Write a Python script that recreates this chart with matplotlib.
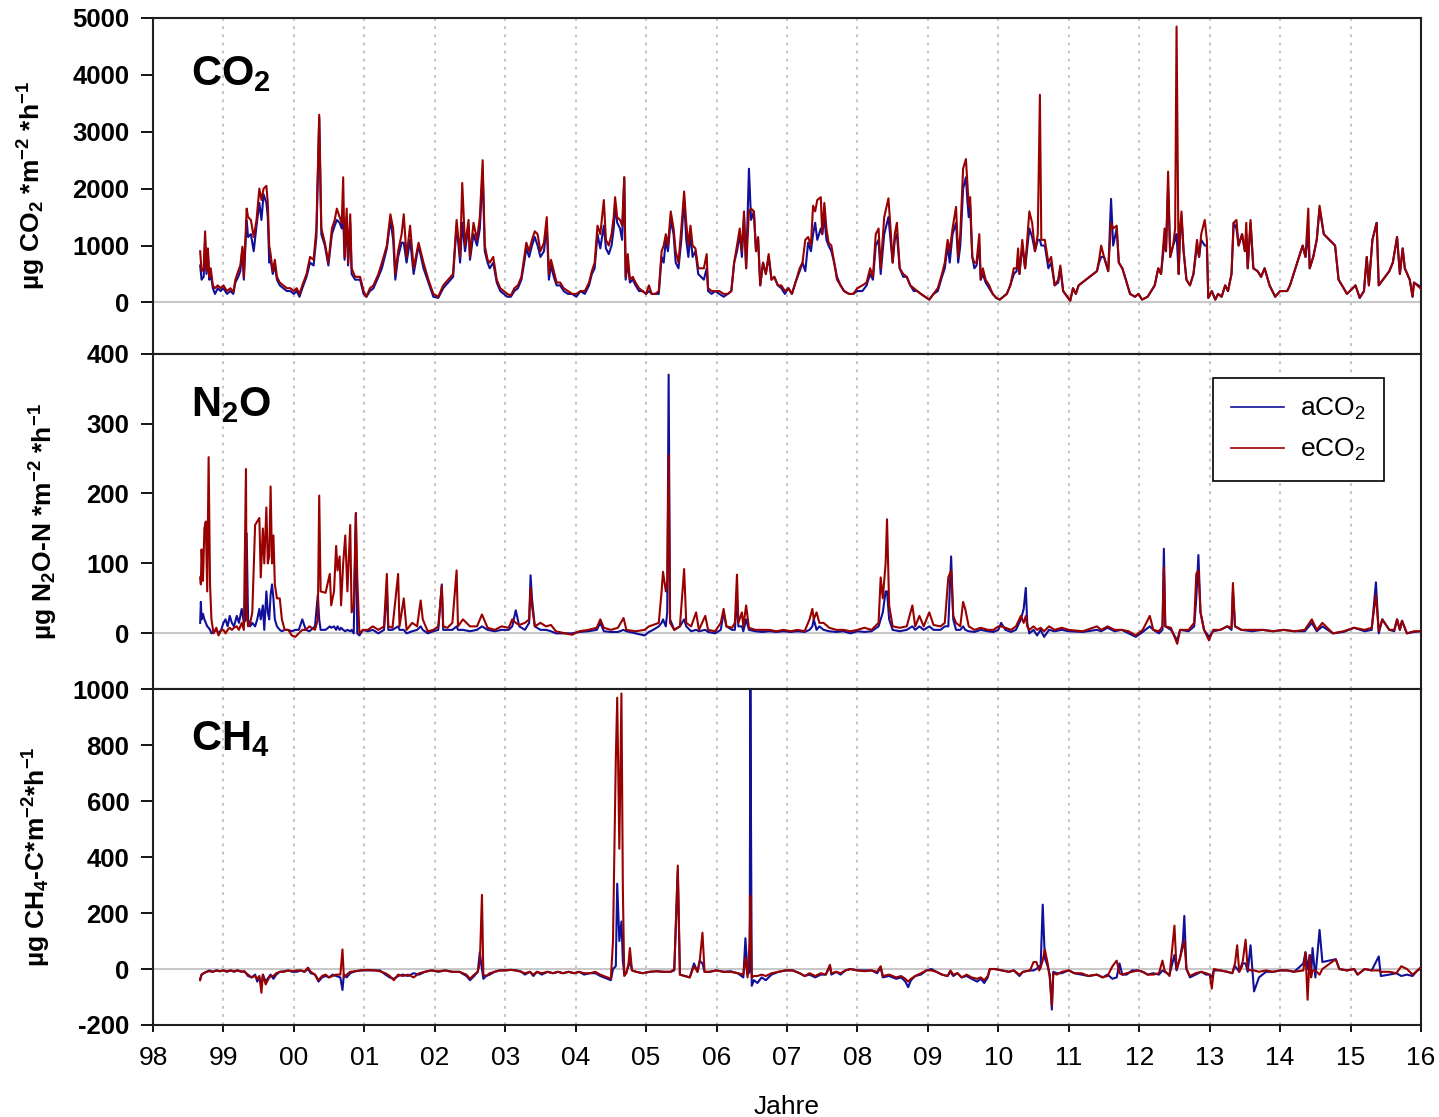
import matplotlib
matplotlib.use("Agg")
import matplotlib.pyplot as plt

plt.rcParams['font.family'] = ['Liberation Sans', 'DejaVu Sans']
plt.rcParams['mathtext.default'] = 'regular'
plt.rcParams['axes.unicode_minus'] = False

# --- CO2 flux, ug CO2 m-2 h-1 ---
co2_t = [
    1998.67, 1998.69, 1998.72, 1998.74, 1998.76, 1998.78, 1998.80, 1998.82, 1998.85, 1998.88, 1998.92, 1998.96,
    1999.00, 1999.05, 1999.10, 1999.14, 1999.17, 1999.21, 1999.24, 1999.27, 1999.29, 1999.33, 1999.35, 1999.39,
    1999.43, 1999.47, 1999.51, 1999.54, 1999.57, 1999.61, 1999.63, 1999.65, 1999.67, 1999.70, 1999.73, 1999.76,
    1999.80, 1999.85, 1999.90, 1999.95,
    2000.00, 2000.04, 2000.08, 2000.12, 2000.18, 2000.23, 2000.28, 2000.32, 2000.36, 2000.39, 2000.44, 2000.49,
    2000.54, 2000.58, 2000.61, 2000.65, 2000.68, 2000.70, 2000.72, 2000.75, 2000.77, 2000.80, 2000.82, 2000.87,
    2000.94, 2000.99,
    2001.03, 2001.08, 2001.13, 2001.20, 2001.25, 2001.32, 2001.37, 2001.41, 2001.44, 2001.48, 2001.53, 2001.56,
    2001.60, 2001.65, 2001.70, 2001.77, 2001.84, 2001.91, 2001.98,
    2002.05, 2002.12, 2002.19, 2002.26, 2002.31, 2002.36, 2002.39, 2002.43, 2002.48, 2002.50, 2002.55, 2002.60,
    2002.64, 2002.68, 2002.71, 2002.75, 2002.78, 2002.83, 2002.88, 2002.93, 2002.98,
    2003.03, 2003.08, 2003.13, 2003.18, 2003.23, 2003.27, 2003.30, 2003.34, 2003.38, 2003.42, 2003.46, 2003.50,
    2003.55, 2003.59, 2003.62, 2003.65, 2003.69, 2003.73, 2003.78, 2003.83, 2003.89, 2003.95,
    2004.01, 2004.07, 2004.13, 2004.19, 2004.23, 2004.27, 2004.31, 2004.35, 2004.40, 2004.43, 2004.47, 2004.51,
    2004.54, 2004.56, 2004.59, 2004.63, 2004.66, 2004.69, 2004.71, 2004.74, 2004.77, 2004.81, 2004.85, 2004.90,
    2004.95,
    2005.00, 2005.04, 2005.08, 2005.13, 2005.18, 2005.22, 2005.25, 2005.28, 2005.31, 2005.35, 2005.39, 2005.42,
    2005.46, 2005.50, 2005.54, 2005.57, 2005.60, 2005.63, 2005.66, 2005.70, 2005.74, 2005.78, 2005.82, 2005.86,
    2005.88, 2005.93, 2005.98,
    2006.04, 2006.10, 2006.16, 2006.21, 2006.25, 2006.29, 2006.33, 2006.36, 2006.39, 2006.42, 2006.46, 2006.49,
    2006.53, 2006.56, 2006.59, 2006.62, 2006.66, 2006.70, 2006.74, 2006.78, 2006.82, 2006.87, 2006.92, 2006.97,
    2007.02, 2007.07, 2007.12, 2007.18, 2007.22, 2007.26, 2007.30, 2007.34, 2007.37, 2007.40, 2007.43, 2007.48,
    2007.50, 2007.53, 2007.56, 2007.59, 2007.63, 2007.67, 2007.71, 2007.76, 2007.81, 2007.88, 2007.94,
    2008.00, 2008.07, 2008.13, 2008.18, 2008.22, 2008.26, 2008.30, 2008.33, 2008.38, 2008.44, 2008.47, 2008.50,
    2008.53, 2008.56, 2008.60, 2008.65, 2008.70, 2008.75, 2008.80, 2008.85, 2008.90, 2008.96,
    2009.02, 2009.08, 2009.14, 2009.20, 2009.24, 2009.28, 2009.31, 2009.35, 2009.40, 2009.43, 2009.46, 2009.50,
    2009.54, 2009.56, 2009.58, 2009.60, 2009.63, 2009.66, 2009.69, 2009.73, 2009.75, 2009.78, 2009.82, 2009.87,
    2009.92, 2009.97,
    2010.02, 2010.07, 2010.12, 2010.17, 2010.22, 2010.26, 2010.28, 2010.30, 2010.34, 2010.38, 2010.44, 2010.48,
    2010.52, 2010.56, 2010.59, 2010.61, 2010.66, 2010.71, 2010.75, 2010.80, 2010.85, 2010.88, 2010.92,
    2011.02, 2011.06, 2011.10, 2011.14, 2011.40, 2011.43, 2011.46, 2011.50, 2011.56, 2011.60, 2011.63, 2011.68,
    2011.71, 2011.76, 2011.81, 2011.87, 2011.94, 2011.99,
    2012.04, 2012.12, 2012.22, 2012.27, 2012.31, 2012.36, 2012.38, 2012.41, 2012.44, 2012.48, 2012.51, 2012.53,
    2012.56, 2012.58, 2012.60, 2012.63, 2012.67, 2012.72, 2012.77, 2012.82, 2012.85, 2012.88, 2012.93, 2012.96,
    2012.98,
    2013.03, 2013.08, 2013.12, 2013.17, 2013.22, 2013.26, 2013.31, 2013.34, 2013.38, 2013.41, 2013.46, 2013.50,
    2013.52, 2013.54, 2013.58, 2013.62, 2013.68, 2013.73, 2013.78, 2013.85, 2013.93,
    2014.00, 2014.10, 2014.14, 2014.32, 2014.36, 2014.40, 2014.42, 2014.47, 2014.52, 2014.56, 2014.62, 2014.78,
    2014.83, 2014.95,
    2015.07, 2015.13, 2015.19, 2015.23, 2015.26, 2015.31, 2015.37, 2015.40, 2015.46, 2015.55, 2015.60, 2015.66,
    2015.70, 2015.74, 2015.77, 2015.84, 2015.88, 2015.90, 2015.99,
]
co2_a = [
    650, 400, 450, 1100, 500, 850, 400, 500, 250, 150, 250, 200,
    250, 150, 200, 150, 350, 450, 550, 950, 400, 1450, 1150, 1200,
    900, 1350, 1750, 1450, 1900, 1750, 1500, 700, 750, 500, 650, 400,
    300, 250, 200, 200,
    150, 200, 100, 250, 450, 700, 650, 1150, 3250, 1200, 1000, 650,
    1200, 1350, 1450, 1400, 1300, 1500, 750, 1500, 650, 1400, 500, 400,
    400, 150,
    100, 200, 250, 450, 600, 950, 1450, 1100, 400, 800, 1050, 1050,
    700, 1100, 500, 1000, 600, 350, 100,
    80, 250, 350, 450, 1350, 700, 1400, 900, 1350, 750, 1200, 1000,
    1300, 2300, 900, 700, 600, 700, 350, 200, 150,
    100, 100, 200, 250, 400, 700, 950, 800, 1000, 1150, 1000, 800,
    900, 1350, 400, 650, 450, 300, 300, 200, 150, 150,
    100, 200, 150, 300, 500, 600, 1200, 950, 1350, 950, 850, 1000,
    1300, 1700, 1400, 1300, 1100, 2200, 400, 700, 350, 400, 300, 200,
    200,
    150, 200, 150, 150, 150, 800, 700, 1100, 900, 1450, 1200, 700,
    600, 1100, 1800, 1100, 800, 1200, 800, 900, 500, 450, 400, 600,
    200, 150, 200,
    150, 100, 150, 200, 700, 900, 1200, 800, 1500, 600, 2350, 1450,
    1600, 900, 1100, 300, 700, 500, 800, 400, 450, 300, 250, 150,
    250, 150, 350, 550, 700, 550, 1050, 900, 1200, 1400, 1100, 1300,
    1200, 1500, 1100, 1000, 900, 700, 450, 300, 200, 150, 150,
    200, 200, 300, 500, 400, 1000, 1100, 500, 1200, 1500, 1100, 700,
    1100, 1200, 600, 450, 450, 300, 200, 200, 150, 100,
    50, 150, 200, 450, 600, 1000, 700, 1200, 1400, 700, 1000, 2000,
    2200, 1800, 1500, 1700, 800, 600, 650, 1000, 400, 500, 350, 250,
    150, 80,
    50, 100, 150, 300, 500, 550, 800, 500, 1000, 600, 1300, 1150,
    900, 1100, 1100, 1000, 1000, 600, 700, 300, 350, 600, 200,
    30, 250, 150, 300, 550, 700, 800, 800, 550, 1820, 1000, 1300,
    700, 600, 400, 150, 100, 150,
    50, 100, 300, 600, 500, 1100, 900, 2000, 800, 1000, 1100, 1200,
    500, 1200, 1500, 900, 400, 300, 500, 1000, 800, 1100, 1000, 1000,
    80,
    200, 50, 150, 100, 300, 200, 500, 1400, 1300, 1000, 1200, 900,
    1200, 600, 1400, 600, 550, 450, 600, 300, 100,
    200, 200, 300, 1000, 800, 1200, 600, 800, 1100, 1650, 1200, 1000,
    400, 150,
    300, 80, 200, 800, 300, 1100, 1400, 300, 400, 550, 700, 1150,
    500, 950, 600, 400, 100, 350, 280,
]
co2_e = [
    900, 550, 600, 1250, 550, 950, 450, 600, 300, 250, 300, 250,
    300, 200, 250, 180, 400, 550, 650, 980, 450, 1650, 1500, 1450,
    1150, 1450, 2000, 1800, 2000, 2050, 1750, 1000, 850, 550, 750, 450,
    350, 300, 250, 250,
    200, 250, 150, 300, 500, 800, 750, 1300, 3300, 1300, 1050, 700,
    1300, 1450, 1650, 1500, 1400, 2200, 800, 1650, 700, 1550, 600, 450,
    450, 200,
    100, 250, 300, 500, 700, 1000, 1550, 1300, 500, 900, 1200, 1550,
    800, 1350, 600, 1050, 700, 400, 150,
    100, 300, 400, 500, 1450, 800, 2100, 1000, 1450, 800, 1400, 1100,
    1500, 2500, 1000, 750, 700, 800, 400, 250, 200,
    150, 120, 250, 300, 450, 800, 1050, 900, 1100, 1250, 1200, 900,
    1050, 1500, 500, 750, 550, 350, 350, 250, 200, 150,
    150, 200, 200, 350, 550, 700, 1350, 1200, 1800, 1100, 1000, 1200,
    1500, 1850, 1500, 1450, 1350, 2200, 450, 850, 400, 450, 350, 250,
    200,
    150, 300, 150, 150, 200, 900, 1000, 1200, 1000, 1600, 1300, 900,
    700, 1300, 1950, 1400, 1000, 1350, 1000, 950, 600, 600, 600, 850,
    250, 200, 200,
    200, 150, 150, 200, 700, 1000, 1300, 900, 1600, 600, 1600, 1650,
    1600, 900, 1150, 300, 700, 500, 850, 400, 450, 300, 300, 200,
    250, 150, 350, 600, 700, 1100, 1150, 1000, 1700, 1600, 1800, 1850,
    1200, 1750, 1300, 1050, 1000, 700, 400, 300, 200, 150, 150,
    250, 300, 350, 600, 450, 1200, 1300, 600, 1500, 1830, 1300, 700,
    1200, 1400, 600, 500, 450, 300, 250, 200, 150, 100,
    50, 150, 250, 500, 700, 1100, 900, 1300, 1680, 800, 1200, 2350,
    2520, 2100, 1700, 1850, 800, 700, 700, 1200, 400, 600, 400, 300,
    150, 80,
    50, 100, 150, 300, 600, 600, 950, 500, 1100, 600, 1600, 1400,
    900, 1200, 3650, 1100, 1100, 700, 800, 300, 400, 650, 200,
    30, 250, 150, 300, 550, 750, 1000, 800, 550, 1400, 1300, 1350,
    700, 600, 400, 150, 100, 150,
    50, 100, 300, 600, 500, 1300, 900, 2300, 800, 1000, 1300, 4850,
    500, 1300, 1600, 900, 400, 300, 500, 1100, 800, 1200, 1450, 1100,
    80,
    200, 50, 150, 100, 300, 200, 500, 1400, 1450, 1000, 1200, 900,
    1400, 600, 1450, 600, 550, 450, 600, 300, 100,
    200, 200, 300, 1000, 800, 1650, 600, 800, 1100, 1700, 1200, 1000,
    400, 150,
    300, 80, 200, 800, 300, 1100, 1400, 300, 400, 550, 700, 1150,
    500, 950, 600, 400, 100, 350, 250,
]

# --- N2O flux, ug N2O-N m-2 h-1 ---
n2o_t = [
    1998.67, 1998.68, 1998.69, 1998.71, 1998.73, 1998.75, 1998.77, 1998.79, 1998.81, 1998.83, 1998.86, 1998.90,
    1998.93, 1998.97,
    1999.00, 1999.03, 1999.06, 1999.09, 1999.12, 1999.15, 1999.19, 1999.22, 1999.26, 1999.29, 1999.32, 1999.33,
    1999.35, 1999.38, 1999.41, 1999.45, 1999.48, 1999.51, 1999.53, 1999.56, 1999.58, 1999.61, 1999.63, 1999.65,
    1999.67, 1999.69, 1999.71, 1999.73, 1999.76, 1999.80, 1999.83, 1999.87, 1999.92, 1999.97,
    2000.02, 2000.07, 2000.12, 2000.17, 2000.22, 2000.30, 2000.34, 2000.36, 2000.38, 2000.45, 2000.51, 2000.53,
    2000.57, 2000.60, 2000.62, 2000.65, 2000.67, 2000.70, 2000.73, 2000.76, 2000.80, 2000.82, 2000.85, 2000.88,
    2000.90, 2000.93, 2000.98,
    2001.05, 2001.12, 2001.20, 2001.28, 2001.32, 2001.34, 2001.40, 2001.48, 2001.50, 2001.56, 2001.60, 2001.68,
    2001.75, 2001.80, 2001.83, 2001.90, 2001.98,
    2002.05, 2002.10, 2002.12, 2002.18, 2002.25, 2002.31, 2002.33, 2002.40, 2002.50, 2002.60, 2002.67, 2002.75,
    2002.85, 2002.95,
    2003.05, 2003.10, 2003.15, 2003.20, 2003.28, 2003.34, 2003.36, 2003.38, 2003.42, 2003.50, 2003.58, 2003.65,
    2003.72, 2003.85, 2003.95,
    2004.05, 2004.18, 2004.30, 2004.35, 2004.40, 2004.50, 2004.60, 2004.68, 2004.72, 2004.85, 2004.98,
    2005.04, 2005.10, 2005.18, 2005.22, 2005.24, 2005.28, 2005.30, 2005.32, 2005.34, 2005.40, 2005.48, 2005.54,
    2005.57, 2005.64, 2005.71, 2005.75, 2005.84, 2005.88, 2005.98,
    2006.06, 2006.10, 2006.14, 2006.22, 2006.26, 2006.29, 2006.31, 2006.36, 2006.38, 2006.42, 2006.46, 2006.55,
    2006.65, 2006.75, 2006.85, 2006.95,
    2007.05, 2007.15, 2007.25, 2007.32, 2007.36, 2007.38, 2007.42, 2007.46, 2007.52, 2007.60, 2007.70, 2007.80,
    2007.90,
    2008.00, 2008.10, 2008.20, 2008.30, 2008.33, 2008.36, 2008.40, 2008.42, 2008.45, 2008.50, 2008.60, 2008.70,
    2008.78, 2008.82, 2008.88, 2008.94,
    2009.02, 2009.08, 2009.18, 2009.24, 2009.29, 2009.33, 2009.36, 2009.40, 2009.46, 2009.50, 2009.53, 2009.58,
    2009.66, 2009.75, 2009.85, 2009.93,
    2010.00, 2010.04, 2010.10, 2010.18, 2010.25, 2010.32, 2010.36, 2010.39, 2010.41, 2010.44, 2010.50, 2010.55,
    2010.60, 2010.65, 2010.72, 2010.80, 2010.90,
    2011.00, 2011.20, 2011.40, 2011.46, 2011.55, 2011.65, 2011.75, 2011.85, 2011.95,
    2012.05, 2012.15, 2012.20, 2012.28, 2012.33, 2012.35, 2012.37, 2012.45, 2012.54, 2012.58, 2012.70, 2012.78,
    2012.81, 2012.84, 2012.87, 2012.92, 2012.99,
    2013.05, 2013.15, 2013.25, 2013.31, 2013.33, 2013.36, 2013.45, 2013.60, 2013.75, 2013.90,
    2014.05, 2014.20, 2014.35, 2014.45, 2014.52, 2014.60, 2014.75, 2014.90,
    2015.05, 2015.20, 2015.30, 2015.36, 2015.40, 2015.45, 2015.55, 2015.62, 2015.66, 2015.70, 2015.73, 2015.80,
    2015.90, 2015.99,
]
n2o_a = [
    15, 45, 20, 28, 20, 15, 10, 8, 5, 0, 2, 5,
    0, 5,
    15, 20, 10, 25, 15, 10, 25, 15, 35, 15, 20, 143,
    20, 10, 15, 10, 20, 35, 20, 40, 5, 60, 30, 20,
    55, 70, 50, 20, 10, 5, 3, 5, 5, 3,
    5, 5, 20, 5, 3, 10, 55, 20, 5, 5, 10, 8,
    10, 5, 10, 5, 8, 5, 3, 5, 3, 5, 0, 172,
    0, -3, 5,
    3, 5, 0, 5, 65, 5, 5, 10, 5, 5, 0, 3,
    5, 10, 5, 0, 3,
    5, 70, 5, 5, 5, 10, 5, 5, 3, 5, 10, 5,
    3, 5,
    5, 10, 33, 10, 5, 15, 83, 50, 10, 5, 5, 3,
    0, 0, 0,
    2, 3, 5, 15, 3, 2, 2, 5, 3, 0, -3,
    2, 5, 10, 15, 20, 10, 30, 370, 20, 5, 10, 20,
    10, 3, 5, 3, 5, 2, 0,
    5, 30, 10, 5, 5, 50, 10, 10, 3, 20, 5, 3,
    2, 3, 2, 3,
    2, 3, 2, 5, 10, 20, 5, 10, 5, 3, 2, 3,
    0,
    3, 2, 3, 10, 20, 30, 60, 60, 20, 5, 3, 5,
    10, 5, 10, 5,
    10, 5, 5, 10, 10, 110, 20, 5, 5, 10, 5, 3,
    2, 5, 3, 2,
    5, 15, 5, 2, 5, 20, 35, 65, 15, 0, 5, -3,
    5, -5, 5, 3, 5,
    3, 2, 5, 3, 8, 3, 5, 0, -5,
    2, 10, 5, 0, 5, 121, 10, 5, -10, 5, 3, 10,
    50, 112, 30, 5, -5,
    3, 5, 10, 5, 60, 10, 5, 3, 5, 3,
    5, 3, 3, 15, 3, 10, 0, 2,
    8, 3, 5, 73, 0, 20, 5, 3, 20, 5, 18, 0,
    2, 3,
]
n2o_e = [
    80, 70, 120, 75, 150, 160, 60, 252, 70, 20, 0, 8,
    -3, 5,
    5, 0, 5, 8, 5, 8, 10, 5, 15, 5, 235, 30,
    10, 15, 30, 155, 160, 165, 80, 150, 100, 180, 100, 110,
    210, 100, 140, 70, 50, 50, 20, 5, 5, -3,
    -5, 0, 5, 5, 10, 5, 20, 197, 60, 58, 85, 40,
    60, 125, 90, 110, 40, 100, 140, 60, 155, 30, 40, 172,
    80, 0, 5,
    5, 10, 5, 10, 85, 10, 8, 85, 10, 50, 5, 15,
    10, 47, 20, 3, 5,
    10, 68, 10, 8, 15, 90, 10, 20, 10, 10, 27, 8,
    5, 10,
    8, 20, 15, 12, 15, 20, 65, 40, 10, 15, 10, 12,
    3, 0, -2,
    3, 5, 8, 20, 8, 5, 8, 22, 5, 3, 5,
    10, 12, 15, 60, 88, 60, 75, 255, 15, 5, 10, 92,
    15, 10, 30, 5, 25, 5, 3,
    15, 35, 10, 8, 15, 84, 15, 30, 10, 40, 8, 5,
    5, 5, 3, 5,
    3, 5, 3, 20, 35, 20, 30, 15, 15, 8, 5, 5,
    3,
    5, 8, 5, 15, 80, 50, 100, 163, 40, 10, 8, 10,
    40, 10, 25, 10,
    30, 12, 10, 15, 80, 90, 25, 15, 10, 45, 35, 10,
    5, 8, 5, 5,
    10, 10, 8, 5, 10, 25, 15, 25, 10, 5, 10, 5,
    8, 3, 10, 5, 8,
    5, 3, 10, 5, 10, 5, 5, 3, -3,
    5, 25, 5, 3, 10, 95, 10, 8, -15, 5, 5, 15,
    85, 90, 30, 5, -10,
    5, 5, 10, 8, 72, 10, 5, 5, 5, 3,
    5, 3, 5, 20, 5, 15, 0, 3,
    8, 5, 8, 55, 3, 20, 5, 5, 20, 5, 18, 0,
    3, 3,
]

# --- CH4 flux, ug CH4-C m-2 h-1 ---
ch4_t = [
    1998.67, 1998.69, 1998.72, 1998.76, 1998.80, 1998.85, 1998.90, 1998.95,
    1999.00, 1999.05, 1999.10, 1999.15, 1999.20, 1999.25, 1999.30, 1999.35, 1999.40, 1999.45, 1999.48, 1999.51,
    1999.54, 1999.56, 1999.60, 1999.64, 1999.67, 1999.71, 1999.75, 1999.80, 1999.86, 1999.92, 1999.98,
    2000.04, 2000.10, 2000.15, 2000.20, 2000.24, 2000.30, 2000.35, 2000.40, 2000.45, 2000.50, 2000.55, 2000.60,
    2000.66, 2000.69, 2000.71, 2000.75, 2000.80, 2000.87, 2000.95,
    2001.05, 2001.15, 2001.22, 2001.30, 2001.36, 2001.42, 2001.48, 2001.55, 2001.62, 2001.70, 2001.78, 2001.86,
    2001.95,
    2002.05, 2002.15, 2002.25, 2002.35, 2002.45, 2002.50, 2002.56, 2002.61, 2002.64, 2002.67, 2002.69, 2002.73,
    2002.78, 2002.85, 2002.92,
    2003.00, 2003.08, 2003.15, 2003.22, 2003.28, 2003.35, 2003.40, 2003.45, 2003.52, 2003.60, 2003.68, 2003.75,
    2003.82, 2003.90, 2003.98,
    2004.05, 2004.12, 2004.20, 2004.28, 2004.35, 2004.40, 2004.45, 2004.50, 2004.53, 2004.57, 2004.59, 2004.62,
    2004.65, 2004.67, 2004.69, 2004.72, 2004.75, 2004.77, 2004.80, 2004.86, 2004.95,
    2005.05, 2005.15, 2005.25, 2005.35, 2005.40, 2005.45, 2005.48, 2005.55, 2005.62, 2005.68, 2005.73, 2005.76,
    2005.80, 2005.83, 2005.90,
    2006.00, 2006.10, 2006.20, 2006.30, 2006.38, 2006.41, 2006.44, 2006.47, 2006.48, 2006.50, 2006.53, 2006.58,
    2006.64, 2006.70, 2006.78, 2006.88, 2006.98,
    2007.08, 2007.18, 2007.25, 2007.32, 2007.40, 2007.48, 2007.55, 2007.61, 2007.63, 2007.70, 2007.76, 2007.83,
    2007.90,
    2008.00, 2008.10, 2008.20, 2008.28, 2008.33, 2008.36, 2008.45, 2008.55, 2008.62, 2008.68, 2008.72, 2008.76,
    2008.82, 2008.90, 2008.98,
    2009.05, 2009.12, 2009.20, 2009.28, 2009.32, 2009.36, 2009.42, 2009.48, 2009.55, 2009.62, 2009.70, 2009.75,
    2009.80, 2009.85, 2009.88, 2009.95,
    2010.05, 2010.15, 2010.22, 2010.30, 2010.35, 2010.45, 2010.50, 2010.54, 2010.58, 2010.60, 2010.63, 2010.66,
    2010.70, 2010.73, 2010.76, 2010.78, 2010.83, 2010.90,
    2011.00, 2011.08, 2011.18, 2011.28, 2011.40, 2011.48, 2011.55, 2011.62, 2011.68, 2011.72, 2011.76, 2011.82,
    2011.90, 2011.98,
    2012.05, 2012.12, 2012.20, 2012.28, 2012.33, 2012.36, 2012.43, 2012.50, 2012.53, 2012.58, 2012.62, 2012.64,
    2012.67, 2012.72, 2012.80, 2012.88, 2012.95,
    2013.00, 2013.03, 2013.06, 2013.15, 2013.25, 2013.32, 2013.36, 2013.39, 2013.42, 2013.46, 2013.51, 2013.54,
    2013.58, 2013.63, 2013.70, 2013.80, 2013.90,
    2014.00, 2014.10, 2014.20, 2014.33, 2014.36, 2014.39, 2014.42, 2014.44, 2014.46, 2014.50, 2014.56, 2014.60,
    2014.79, 2014.84, 2014.95,
    2015.05, 2015.10, 2015.20, 2015.30, 2015.40, 2015.43, 2015.55, 2015.65, 2015.72, 2015.80, 2015.88, 2015.95,
    2015.99,
]
ch4_a = [
    -35, -20, -15, -10, -5, -10, -5, -8,
    -5, -10, -5, -8, -5, -10, -8, -25, -30, -20, -45, -30,
    -60, -20, -45, -30, -20, -35, -20, -10, -8, -5, -10,
    -10, -5, -10, 0, -15, -20, -45, -30, -25, -30, -20, -25,
    -30, -75, -20, -30, -15, -8, -5,
    -5, -5, -5, -20, -30, -35, -25, -20, -25, -15, -20, -10,
    -5,
    -10, -5, -10, -10, -25, -40, -25, -10, 60, 0, -35, -25,
    -20, -10, -5,
    -5, -3, -5, -8, -20, -10, -25, -10, -20, -10, -15, -10,
    -15, -10, -15,
    -10, -20, -15, -15, -25, -30, -35, -40, 0, 10, 305, 100,
    170, 30, -20, -10, 10, 30, -5, -10, -15,
    -10, -8, -10, -10, -5, 350, -20, -25, -30, 20, -10, 30,
    20, -10, -10,
    -5, -10, -8, -15, -30, 110, -20, -10, 1010, -60, -40, -50,
    -30, -40, -20, -10, -5,
    -5, -15, -25, -20, -30, -20, -20, 10, -20, -10, -20, -5,
    0,
    -5, -5, -5, -15, 5, -30, -25, -35, -30, -45, -65, -40,
    -25, -20, -5,
    0, -10, -20, -25, -10, -25, -15, -30, -25, -35, -45, -35,
    -50, -30, 0, 0,
    -5, -10, -5, -25, -10, -5, -5, 0, 10, 5, 230, 40,
    10, -20, -145, -10, -15, -15,
    -5, -15, -20, -25, -20, -30, -20, -35, -30, 20, -20, -20,
    -5, -5,
    -10, -20, -15, -20, -5, -10, -20, 50, -5, 40, 100, 190,
    0, -30, -20, -10, -20,
    -20, -30, -5, -5, -10, -15, 10, 0, -10, 20, 20, -10,
    85, -80, -30, -10, -10,
    -5, -5, -10, 20, 60, 0, 50, -20, 75, -30, 140, 25,
    35, 0, -5,
    0, -20, 0, -5, 45, -25, -20, -15, -25, -20, -25, -5,
    0,
]
ch4_e = [
    -40, -20, -15, -10, -8, -10, -5, -8,
    -5, -8, -5, -10, -5, -8, -10, -20, -30, -25, -35, -25,
    -85, -20, -55, -35, -25, -25, -15, -10, -10, -5, -8,
    -5, -5, -10, 5, -10, -20, -40, -25, -20, -30, -25, -20,
    -20, 70, -30, -20, -10, -8, -5,
    -3, -5, -8, -15, -25, -40, -20, -25, -20, -30, -15, -10,
    -5,
    -8, -5, -10, -10, -20, -35, -20, -10, 20, 265, -20, -25,
    -15, -10, -5,
    -5, -3, -5, -10, -15, -10, -20, -10, -15, -10, -15, -10,
    -15, -10, -15,
    -10, -15, -15, -10, -20, -25, -30, -35, 100, 750, 970, 430,
    985, 290, -25, -15, 20, 75, -5, -10, -15,
    -10, -8, -10, -10, 0, 370, -20, -25, -30, 10, -10, 25,
    130, -10, -10,
    -5, -10, -10, -15, -20, 40, -30, 100, 262, -30, -25, -25,
    -20, -25, -15, -10, -5,
    -5, -15, -25, -15, -25, -15, -20, 15, -15, -10, -15, -5,
    0,
    -5, -8, -5, -10, 10, -25, -20, -30, -25, -35, -45, -35,
    -25, -15, -5,
    -5, -10, -20, -25, -5, -20, -15, -30, -20, -30, -35, -30,
    -40, -25, 0, 0,
    -5, -10, -5, -20, -10, -5, 25, 25, -5, 5, 30, 70,
    20, -30, -130, -15, -20, -10,
    -5, -15, -15, -25, -20, -30, -25, 10, 30, -15, -20, -15,
    -10, -5,
    -10, -20, -20, -15, 30, -5, -25, 155, 0, 40, 80, 100,
    0, -25, -15, -10, -15,
    -20, -70, 0, -5, -10, -15, 20, 85, -10, 10, 105, 0,
    -5, -5, -10, -5, -10,
    -5, -5, -10, -5, 60, -110, 50, -30, -5, -5, -20, 0,
    35, 0, -5,
    0, -20, 0, -5, -5, -10, -10, -15, 10, 0, -20, -5,
    5,
]

years = list(range(1998, 2017))
year_labels = ['%02d' % (y % 100) for y in years]

blue = '#10109a'
red = '#990000'

fig, axs = plt.subplots(3, 1, sharex=True, figsize=(14.39, 11.17), dpi=100)
fig.subplots_adjust(left=0.1063, right=0.9875, top=0.9839, bottom=0.0824, hspace=0)

panels = [
    (axs[0], co2_t, co2_a, co2_e, (-900, 5000), [0, 1000, 2000, 3000, 4000, 5000],
     r'CO$_2$', r'µg CO$_2$ *m$^{-2}$ *h$^{-1}$', 0.80, -0.083),
    (axs[1], n2o_t, n2o_a, n2o_e, (-80, 400), [0, 100, 200, 300, 400],
     r'N$_2$O', r'µg N$_2$O-N *m$^{-2}$ *h$^{-1}$', 0.815, -0.073),
    (axs[2], ch4_t, ch4_a, ch4_e, (-200, 1000), [-200, 0, 200, 400, 600, 800, 1000],
     r'CH$_4$', r'µg CH$_4$-C*m$^{-2}$*h$^{-1}$', 0.82, -0.079),
]

for ax, t, a, e, ylim, yt, name, ylab, ny, lx in panels:
    ax.axhline(0, color='#c8c8c8', lw=1.5, zorder=1)
    ax.plot(t, a, color=blue, lw=1.5, label=r'aCO$_2$', zorder=2)
    ax.plot(t, e, color=red, lw=1.5, label=r'eCO$_2$', zorder=3)
    ax.set_ylim(*ylim)
    ax.set_yticks(yt)
    ax.set_yticklabels([str(v) for v in yt], fontsize=18.5, fontweight='bold')
    ax.tick_params(axis='y', direction='out', length=9, width=1.3, pad=8)
    ax.set_xlim(1998, 2016)
    ax.set_xticks(years)
    ax.grid(axis='x', color='#c4c4c4', ls=(0, (1.3, 2.6)), lw=1.5)
    ax.set_axisbelow(True)
    for s in ax.spines.values():
        s.set_linewidth(1.5)
        s.set_color('#202020')
    ax.text(0.030, ny, name, transform=ax.transAxes, fontsize=30,
            fontweight='bold', va='baseline', ha='left')
    ax.set_ylabel(ylab, fontsize=19, fontweight='bold')
    ax.yaxis.set_label_coords(lx, 0.5)

axs[0].tick_params(axis='x', length=0, labelbottom=False)
axs[1].tick_params(axis='x', length=0, labelbottom=False)
axs[2].set_xticklabels(year_labels)
axs[2].tick_params(axis='x', direction='out', length=5, width=1.3, pad=10, labelsize=19)
axs[2].set_xlabel('Jahre', fontsize=19, labelpad=18)

leg = axs[1].legend(loc='upper right', bbox_to_anchor=(0.9708, 0.9286), borderaxespad=0,
                    fontsize=19, frameon=True, fancybox=False, framealpha=1,
                    edgecolor='black', handlelength=2.0, handletextpad=0.6,
                    labelspacing=0.55, borderpad=0.7)
leg.get_frame().set_linewidth(1.2)
for ln in leg.get_lines():
    ln.set_linewidth(1.2)

fig.savefig('out.png', dpi=100)
